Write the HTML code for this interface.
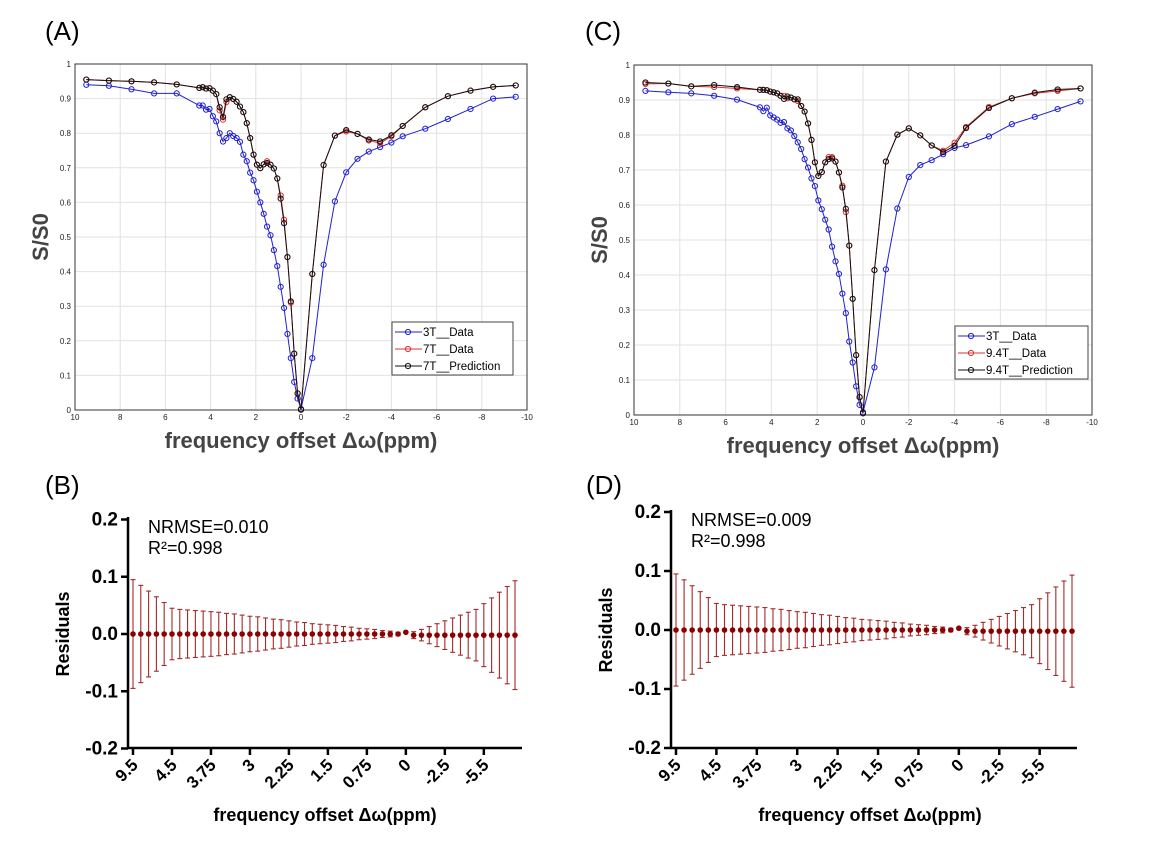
<!DOCTYPE html>
<html><head><meta charset="utf-8"><style>
html,body{margin:0;padding:0;background:#fff;}
svg{display:block;font-family:"Liberation Sans",Arial,sans-serif;}
</style></head><body>
<svg id="fig" width="1149" height="844" viewBox="0 0 1149 844" xmlns="http://www.w3.org/2000/svg">
<text x="45" y="40" font-size="26">(A)</text>
<text x="585" y="40" font-size="26">(C)</text>
<text x="45" y="494" font-size="26">(B)</text>
<text x="586" y="494" font-size="26">(D)</text>
</svg>
<script>
const xs=[9.5,8.5,7.5,6.5,5.5,4.5,4.35,4.2,4.05,3.9,3.75,3.6,3.45,3.3,3.15,3.0,2.85,2.7,2.55,2.4,2.25,2.1,1.95,1.8,1.65,1.5,1.35,1.2,1.05,0.9,0.75,0.6,0.45,0.3,0.15,0,-0.5,-1,-1.5,-2,-2.5,-3,-3.5,-4,-4.5,-5.5,-6.5,-7.5,-8.5,-9.5];
const a3T=[0.94,0.937,0.927,0.915,0.915,0.88,0.88,0.868,0.87,0.849,0.834,0.80,0.776,0.786,0.80,0.792,0.786,0.775,0.738,0.719,0.686,0.664,0.631,0.60,0.567,0.53,0.505,0.462,0.416,0.356,0.295,0.22,0.15,0.081,0.033,0.003,0.15,0.42,0.603,0.687,0.726,0.747,0.76,0.773,0.791,0.813,0.841,0.87,0.90,0.905];
const a7Tdata=[0.955,0.952,0.95,0.947,0.941,0.931,0.933,0.929,0.93,0.923,0.913,0.866,0.839,0.89,0.904,0.899,0.891,0.877,0.861,0.829,0.786,0.738,0.709,0.699,0.71,0.719,0.709,0.698,0.669,0.62,0.55,0.442,0.31,0.163,0.048,0.001,0.393,0.708,0.793,0.805,0.798,0.779,0.771,0.791,0.821,0.875,0.907,0.923,0.934,0.938];
const a7Tpred=[0.955,0.952,0.95,0.947,0.941,0.931,0.933,0.929,0.93,0.923,0.913,0.875,0.847,0.898,0.904,0.899,0.891,0.877,0.861,0.829,0.786,0.738,0.709,0.699,0.71,0.714,0.709,0.698,0.669,0.611,0.54,0.442,0.314,0.163,0.048,0.001,0.393,0.708,0.793,0.809,0.798,0.782,0.776,0.794,0.821,0.875,0.907,0.923,0.934,0.938];
const c3T=[0.926,0.922,0.919,0.912,0.901,0.879,0.868,0.878,0.856,0.85,0.844,0.835,0.837,0.819,0.813,0.797,0.779,0.76,0.731,0.707,0.676,0.654,0.613,0.588,0.558,0.53,0.481,0.439,0.403,0.347,0.291,0.21,0.15,0.082,0.029,0.008,0.136,0.416,0.59,0.68,0.714,0.728,0.745,0.763,0.771,0.796,0.831,0.852,0.874,0.896];
const c94data=[0.946,0.947,0.939,0.937,0.933,0.929,0.929,0.928,0.924,0.922,0.919,0.912,0.912,0.905,0.907,0.902,0.897,0.883,0.867,0.833,0.786,0.722,0.683,0.694,0.722,0.737,0.737,0.724,0.693,0.655,0.58,0.484,0.332,0.171,0.051,0.005,0.414,0.724,0.801,0.819,0.799,0.77,0.755,0.778,0.823,0.88,0.905,0.919,0.926,0.933];
const c94pred=[0.95,0.947,0.939,0.943,0.937,0.929,0.929,0.928,0.924,0.922,0.919,0.912,0.903,0.91,0.907,0.902,0.902,0.883,0.867,0.833,0.786,0.722,0.683,0.694,0.722,0.731,0.733,0.724,0.693,0.65,0.589,0.484,0.332,0.171,0.051,0.005,0.414,0.724,0.801,0.819,0.799,0.77,0.751,0.769,0.82,0.877,0.905,0.921,0.93,0.933];
const matXTicks=[10,8,6,4,2,0,-2,-4,-6,-8,-10];
const matYTicks=[0,0.1,0.2,0.3,0.4,0.5,0.6,0.7,0.8,0.9,1];
const bResid=[0,0,0,0,0,0,0,0,0,0,0,0,0,0,0,0,0,0,0,0,0,0,0,0,0,0,0,0,0,0,0,0,0,0,0,0.003,-0.002,-0.002,-0.002,-0.002,-0.002,-0.002,-0.002,-0.002,-0.002,-0.002,-0.002,-0.002,-0.002,-0.002];
const bErr=[0.095,0.085,0.075,0.065,0.055,0.045,0.043,0.042,0.041,0.040,0.039,0.038,0.036,0.035,0.033,0.031,0.030,0.028,0.026,0.025,0.023,0.021,0.020,0.018,0.017,0.016,0.015,0.013,0.012,0.010,0.009,0.008,0.006,0.005,0.003,0.001,0.006,0.010,0.015,0.020,0.025,0.030,0.035,0.040,0.045,0.055,0.065,0.075,0.085,0.095];
const dResid=bResid.slice();
const dErr=bErr.slice();
const resTickLabels=["9.5","4.5","3.75","3","2.25","1.5","0.75","0","-2.5","-5.5"];
const resYTicks=[-0.2,-0.1,0.0,0.1,0.2];

const svg=document.getElementById('fig');
const NS="http://www.w3.org/2000/svg";
function mk(tag,at,parent){const e=document.createElementNS(NS,tag);for(const k in at)e.setAttribute(k,at[k]);(parent||svg).appendChild(e);return e;}

function matlab(c){
  const g=mk('g',{});
  
  
  const X=v=>c.x0+(10-v)/20*(c.x1-c.x0);
  const Y=v=>c.y1-v*(c.y1-c.y0);
  mk('rect',{x:c.x0,y:c.y0,width:c.x1-c.x0,height:c.y1-c.y0,fill:'#fff'},g);
  matXTicks.forEach(t=>{
    const gl=mk('line',{x1:X(t),x2:X(t),y1:c.y0,y2:c.y1,stroke:'#e2e2e2','stroke-width':1},g);
    
    
    const tl=mk('text',{x:X(t),y:c.y1+10,'font-size':8,'text-anchor':'middle',fill:'#222'},g);
    
    
    tl.textContent=t;
  });
  matYTicks.forEach(t=>{
    mk('line',{x1:c.x0,x2:c.x1,y1:Y(t),y2:Y(t),stroke:'#e2e2e2','stroke-width':1},g);
    const tl=mk('text',{x:c.x0-4,y:Y(t)+3,'font-size':8,'text-anchor':'end',fill:'#222'},g);
    
    
    tl.textContent=t;
  });
  mk('rect',{x:c.x0,y:c.y0,width:c.x1-c.x0,height:c.y1-c.y0,fill:'none',stroke:'#333','stroke-width':1},g);
  c.series.forEach(s=>{
    const sg=mk('g',{},g);
    
    
    mk('polyline',{points:xs.map((x,i)=>X(x)+','+Y(s.vals[i])).join(' '),fill:'none',stroke:s.color,'stroke-width':1},sg);
    xs.forEach((x,i)=>{
      const p=mk('circle',{cx:X(x),cy:Y(s.vals[i]),r:2.6,fill:'none',stroke:s.color,'stroke-width':1},sg);
      
      
    });
  });
  const lg=mk('g',{},g);
  
  
  mk('rect',{x:c.lx,y:c.ly,width:c.lw,height:53,fill:'#fff',stroke:'#444','stroke-width':1},lg);
  c.series.forEach((s,i)=>{
    const yy=c.ly+10+i*17;
    mk('line',{x1:c.lx+3,x2:c.lx+30,y1:yy,y2:yy,stroke:s.color},lg);
    mk('circle',{cx:c.lx+16,cy:yy,r:2.6,fill:'none',stroke:s.color},lg);
    const t=mk('text',{x:c.lx+31,y:yy+4,'font-size':11.5},lg);
    
    
    t.textContent=s.label;
  });
  const yl=mk('text',{x:0,y:0,'font-size':22,'font-weight':'bold',fill:'#444','text-anchor':'middle',transform:`translate(${c.x0-27},${(c.y0+c.y1)/2}) rotate(-90)`},g);
  
  
  yl.textContent='S/S0';
  const xl=mk('text',{x:(c.x0+c.x1)/2,y:c.y1+38,'font-size':22,'font-weight':'bold',fill:'#444','text-anchor':'middle'},g);
  
  
  xl.textContent='frequency offset \u0394\u03c9(ppm)';
}

function resid(c){
  const g=mk('g',{});
  
  
  const n=xs.length;
  const X=i=>c.p0+i*(c.p1-c.p0)/(n-1);
  const Y=v=>c.yz-(v)*(c.yb-c.yt)/0.4;
  c.vals.forEach((v,i)=>{
    const e=c.err[i];
    const eb=mk('g',{stroke:'#a52a2a','stroke-width':1.1},g);
    
    
    mk('line',{x1:X(i),x2:X(i),y1:Y(v+e),y2:Y(v-e)},eb);
    mk('line',{x1:X(i)-2.5,x2:X(i)+2.5,y1:Y(v+e),y2:Y(v+e)},eb);
    mk('line',{x1:X(i)-2.5,x2:X(i)+2.5,y1:Y(v-e),y2:Y(v-e)},eb);
  });
  c.vals.forEach((v,i)=>{
    const p=mk('circle',{cx:X(i),cy:Y(v),r:2.8,fill:'#8b0000'},g);
    
    
  });
  mk('line',{x1:c.ax,x2:c.ax,y1:c.yt-2,y2:c.yb+1,stroke:'#000','stroke-width':2.5},g);
  mk('line',{x1:c.ax,x2:c.xe,y1:c.yb,y2:c.yb,stroke:'#000','stroke-width':2.5},g);
  resYTicks.forEach(t=>{
    mk('line',{x1:c.ax-7,x2:c.ax,y1:Y(t),y2:Y(t),stroke:'#000','stroke-width':2.5},g);
    const tl=mk('text',{x:c.ax-10,y:Y(t)+6,'font-size':19,'font-weight':'bold','text-anchor':'end'},g);
    
    
    tl.textContent=t.toFixed(1);
  });
  resTickLabels.forEach((t,k)=>{
    const x=X(k*5);
    mk('line',{x1:x,x2:x,y1:c.yb,y2:c.yb+7,stroke:'#000','stroke-width':2.5},g);
    const tl=mk('text',{x:0,y:0,'font-size':17,'font-weight':'bold','text-anchor':'end',transform:`translate(${x+6},${c.yb+18}) rotate(-45)`},g);
    
    
    tl.textContent=t;
  });
  const yl=mk('text',{x:0,y:0,'font-size':18,'font-weight':'bold','text-anchor':'middle',transform:`translate(${c.ax-59},${c.yz}) rotate(-90)`},g);
  
  
  yl.textContent='Residuals';
  const xl=mk('text',{x:c.xlc,y:c.yb+73,'font-size':18,'font-weight':'bold','text-anchor':'middle'},g);
  
  
  xl.textContent='frequency offset \u0394\u03c9(ppm)';
  const s1=mk('text',{x:c.ax+20,y:c.yt+14,'font-size':18},g);
  
  
  s1.textContent=c.nrmse;
  const s2=mk('text',{x:c.ax+20,y:c.yt+35,'font-size':18},g);
  
  
  s2.textContent='R\u00b2=0.998';
}

matlab({name:'chart-a',x0:75,x1:527,y0:64,y1:410,lx:392,ly:322,lw:121,series:[
  {name:'series-3t-data',label:'3T__Data',color:'#2020d0',vals:a3T},
  {name:'series-7t-data',label:'7T__Data',color:'#e03030',vals:a7Tdata},
  {name:'series-7t-prediction',label:'7T__Prediction',color:'#111',vals:a7Tpred}]});
matlab({name:'chart-c',x0:634,x1:1092,y0:65,y1:415,lx:955,ly:326,lw:133,series:[
  {name:'series-3t-data',label:'3T__Data',color:'#2020d0',vals:c3T},
  {name:'series-9.4t-data',label:'9.4T__Data',color:'#e03030',vals:c94data},
  {name:'series-9.4t-prediction',label:'9.4T__Prediction',color:'#111',vals:c94pred}]});
resid({name:'chart-b',ax:128,xe:522,yt:519,yb:748,yz:634,p0:133,p1:515,xlc:325,nrmse:'NRMSE=0.010',vals:bResid,err:bErr});
resid({name:'chart-d',ax:671,xe:1077,yt:512,yb:748,yz:630,p0:676,p1:1072,xlc:870,nrmse:'NRMSE=0.009',vals:dResid,err:dErr});
</script>
</body></html>
